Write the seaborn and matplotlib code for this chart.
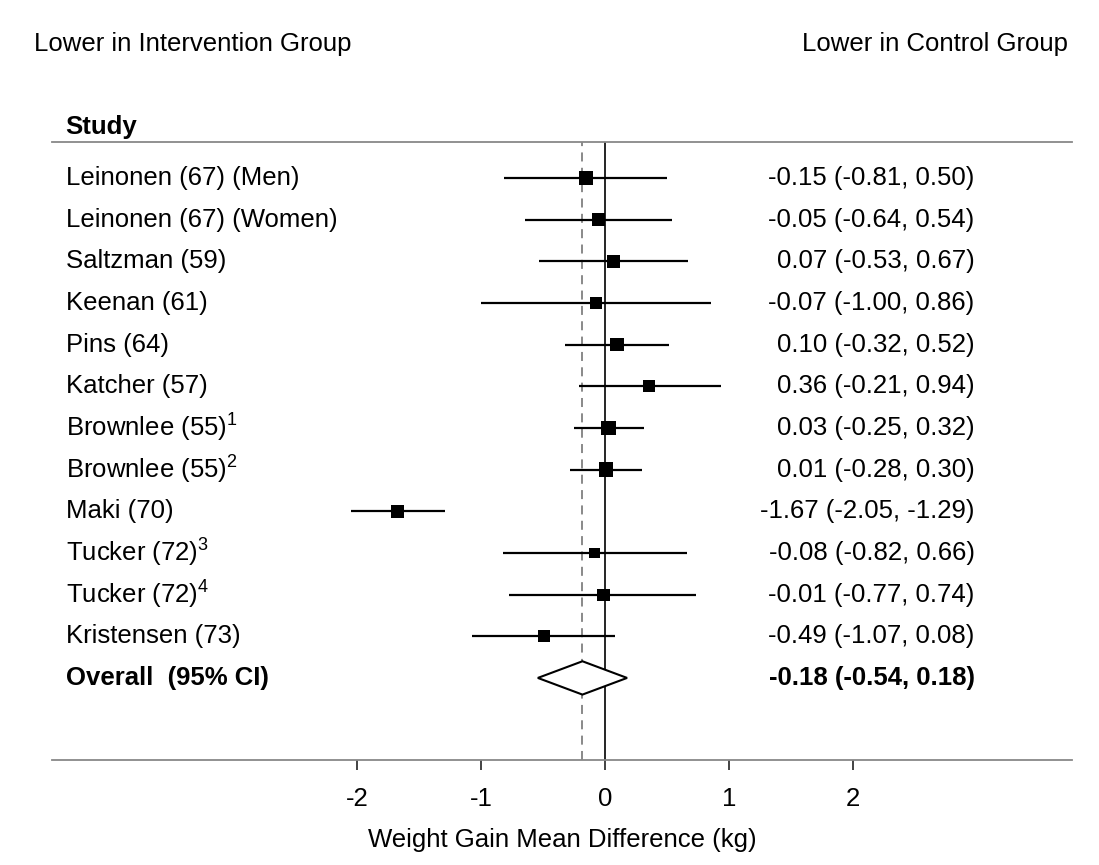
import numpy as np
import pandas as pd
import matplotlib
matplotlib.use("Agg")
import matplotlib.pyplot as plt
import seaborn as sns

# ---------------- data ----------------
studies = ["Leinonen (67) (Men)", "Leinonen (67) (Women)", "Saltzman (59)",
           "Keenan (61)", "Pins (64)", "Katcher (57)", r"Brownlee (55)$^{\mathrm{1}}$",
           r"Brownlee (55)$^{\mathrm{2}}$", "Maki (70)", r"Tucker (72)$^{\mathrm{3}}$",
           r"Tucker (72)$^{\mathrm{4}}$", "Kristensen (73)"]
est = [-0.15, -0.05, 0.07, -0.07, 0.10, 0.36, 0.03, 0.01, -1.67, -0.08, -0.01, -0.49]
lo = [-0.81, -0.64, -0.53, -1.00, -0.32, -0.21, -0.25, -0.28, -2.05, -0.82, -0.77, -1.07]
hi = [0.50, 0.54, 0.67, 0.86, 0.52, 0.94, 0.32, 0.30, -1.29, 0.66, 0.74, 0.08]
weights = [12, 12, 12, 11, 12, 11, 13, 13, 12, 10, 11, 11]

overall_label = "Overall  (95% CI)"
overall_est, overall_lo, overall_hi = -0.18, -0.54, 0.18

xticks = [-2, -1, 0, 1, 2]

df = pd.DataFrame({"study": studies, "est": est, "lo": lo, "hi": hi, "w": weights})
df["row"] = np.arange(len(df))
overall_row = len(df)

# ---------------- style ----------------
sns.set_theme(style="white")
plt.rcParams["font.family"] = ["Liberation Sans", "DejaVu Sans"]
plt.rcParams["mathtext.fontset"] = "custom"
plt.rcParams["mathtext.rm"] = "Liberation Sans"
plt.rcParams["mathtext.it"] = "Liberation Sans:italic"
plt.rcParams["text.color"] = "black"
plt.rcParams["axes.labelcolor"] = "black"
plt.rcParams["xtick.color"] = "black"
FS = 18.5

fig = plt.figure(figsize=(10.99, 8.65), dpi=100)
ax = fig.add_axes([52 / 1099, 1 - 760 / 865, 1020 / 1099, 618 / 865])

# CI lines + squares
ax.hlines(df["row"], df["lo"], df["hi"], color="black", lw=1.6, zorder=3)
sns.scatterplot(data=df, x="est", y="row", size="w", sizes=(60, 110),
                marker="s", color="black", edgecolor="black", linewidth=0,
                legend=False, ax=ax, zorder=4)

# reference lines
ax.axvline(0, color="black", lw=1.2, zorder=2)
ax.axvline(overall_est, color="gray", lw=1.3, ls=(0, (5, 3.5)), zorder=2)

# overall diamond
h = 0.4
ax.fill([overall_lo, overall_est, overall_hi, overall_est],
        [overall_row, overall_row - h, overall_row, overall_row + h],
        facecolor="white", edgecolor="black", lw=1.5, zorder=5)

# text columns
x_left = -4.35
x_right = 2.985
for r, s, e, l, u in zip(df["row"], studies, est, lo, hi):
    ax.text(x_left, r, s, ha="left", va="center", fontsize=FS)
    ax.text(x_right, r, f"{e:.2f} ({l:.2f}, {u:.2f})", ha="right", va="center", fontsize=FS)
ax.text(x_left, overall_row, overall_label, ha="left", va="center",
        fontsize=FS, fontweight="bold")
ax.text(x_right, overall_row, f"{overall_est:.2f} ({overall_lo:.2f}, {overall_hi:.2f})",
        ha="right", va="center", fontsize=FS, fontweight="bold")
ax.text(x_left, -1.22, "Study", ha="left", va="center", fontsize=FS, fontweight="bold")

# axes
ax.set_xlim(-4.46, 3.77)
ax.set_ylim(13.97, -0.864)
ax.set_yticks([])
ax.set_xticks(xticks)
ax.set_xticklabels([str(t) for t in xticks], fontsize=FS)
ax.tick_params(axis="x", direction="out", length=7.5, width=1.2, color="#222222",
               labelcolor="black", pad=12, bottom=True)
for side in ["left", "right"]:
    ax.spines[side].set_visible(False)
for side in ["top", "bottom"]:
    ax.spines[side].set_color("#888888")
    ax.spines[side].set_linewidth(1.3)
ax.set_xlabel("Weight Gain Mean Difference (kg)", fontsize=FS, labelpad=12)
ax.set_ylabel("")

fig.text(34 / 1099, 1 - 44 / 865, "Lower in Intervention Group", ha="left", va="center", fontsize=FS)
fig.text(1068 / 1099, 1 - 44 / 865, "Lower in Control Group", ha="right", va="center", fontsize=FS)

fig.savefig("out.png", dpi=100, facecolor="white")
